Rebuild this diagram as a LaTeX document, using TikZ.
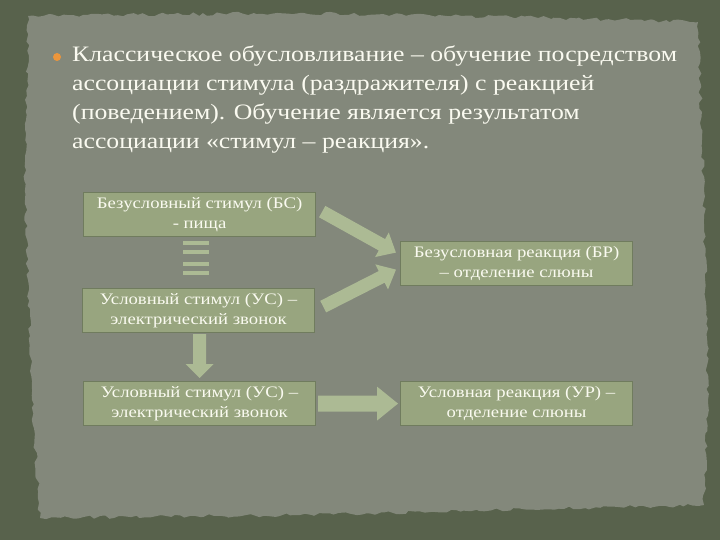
\documentclass[tikz,border=0pt]{standalone}
\usepackage{fontspec}
\setmainfont{Liberation Serif}[FakeStretch=1.17]
\usetikzlibrary{decorations.pathmorphing,calc}
\definecolor{outerbg}{RGB}{88,98,76}
\definecolor{panel}{RGB}{131,136,123}
\definecolor{boxfill}{RGB}{152,165,127}
\definecolor{boxline}{RGB}{112,124,94}
\definecolor{arrowc}{RGB}{172,186,148}
\definecolor{txt}{RGB}{250,250,240}
\definecolor{bulletc}{RGB}{236,150,60}
\tikzset{
  stim/.style={draw=boxline, line width=1.2pt, fill=boxfill, minimum width=232pt, minimum height=44pt,
    text=txt, font=\fontsize{16}{19.5}\selectfont, align=center, inner sep=2pt, anchor=north west},
  barrow/.style={fill=arrowc, draw=none},
}
% block arrow: #1 start, #2 end, #3 shaft half width, #4 head half width, #5 head length
\newcommand\blockarr[5]{%
  \path let \p1=($(#2)-(#1)$), \n1={atan2(\y1,\x1)}, \n2={veclen(\x1,\y1)} in
    \pgfextra{\xdef\barang{\n1}\xdef\barlen{\n2}};
  \fill[barrow, shift={(#1)}, rotate=\barang]
    (0,-#3) -- ({\barlen-#5},-#3) -- ({\barlen-#5},-#4) -- (\barlen,0) --
    ({\barlen-#5},#4) -- ({\barlen-#5},#3) -- (0,#3) -- cycle;
}
\begin{document}
\begin{tikzpicture}[x=1pt,y=-1pt]
\useasboundingbox (0,0) rectangle (720,540);
\fill[outerbg] (0,0) rectangle (720,540);
\pgfmathsetseed{7}
\fill[panel, decorate, decoration={random steps,segment length=5pt,amplitude=1.8pt}]
  (28,16) -- (300,13) -- (560,18) -- (698,22) -- (704,200) -- (708,400) -- (704,505) -- (500,510) -- (300,515) -- (40,518) -- (32,400) -- (25,200) -- cycle;
% bullet text
\fill[bulletc] (57,57) circle (4);
\node[anchor=north west, text=txt, font=\fontsize{22}{29}\selectfont, align=left, inner sep=0pt] (head) at (72,46)
 {Классическое обусловливание – обучение посредством\\
  ассоциации стимула (раздражителя) с реакцией\\
  (поведением). Обучение является результатом\\
  ассоциации «стимул – реакция».};
% boxes
\node[stim] (bs) at (83,192) {Безусловный стимул (БС)\\- пища};
\node[stim] (us1) at (82,288) {Условный стимул (УС) –\\электрический звонок};
\node[stim] (br) at (400,241) {Безусловная реакция (БР)\\– отделение слюны};
\node[stim] (us2) at (83,381) {Условный стимул (УС) –\\электрический звонок};
\node[stim] (ur) at (400,381) {Условная реакция (УР) –\\отделение слюны};
% equals signs
\foreach \yy in {241,262}{
  \fill[arrowc] (183,\yy) rectangle (209,\yy+3.5);
  \fill[arrowc] (183,\yy+9) rectangle (209,\yy+12.5);
}
% block arrows
\coordinate (a1s) at ($(bs.east)+(6,-3)$);
\coordinate (a1e) at ($(br.west)+(-4,-11)$);
\coordinate (a2s) at ($(us1.east)+(8,-4)$);
\coordinate (a2e) at ($(br.west)+(-4,6)$);
\blockarr{a1s}{a1e}{6.5}{14}{16}
\blockarr{a2s}{a2e}{6.5}{14}{16}
\coordinate (d1) at ($(us1.south)+(1,1)$);
\coordinate (d2) at ($(us2.north)+(0,-3)$);
\blockarr{d1}{d2}{6.5}{14}{14}
\coordinate (h1) at ($(us2.east)+(2,0)$);
\coordinate (h2) at ($(ur.west)+(-2,0)$);
\blockarr{h1}{h2}{8}{17}{21}
\end{tikzpicture}
\end{document}
